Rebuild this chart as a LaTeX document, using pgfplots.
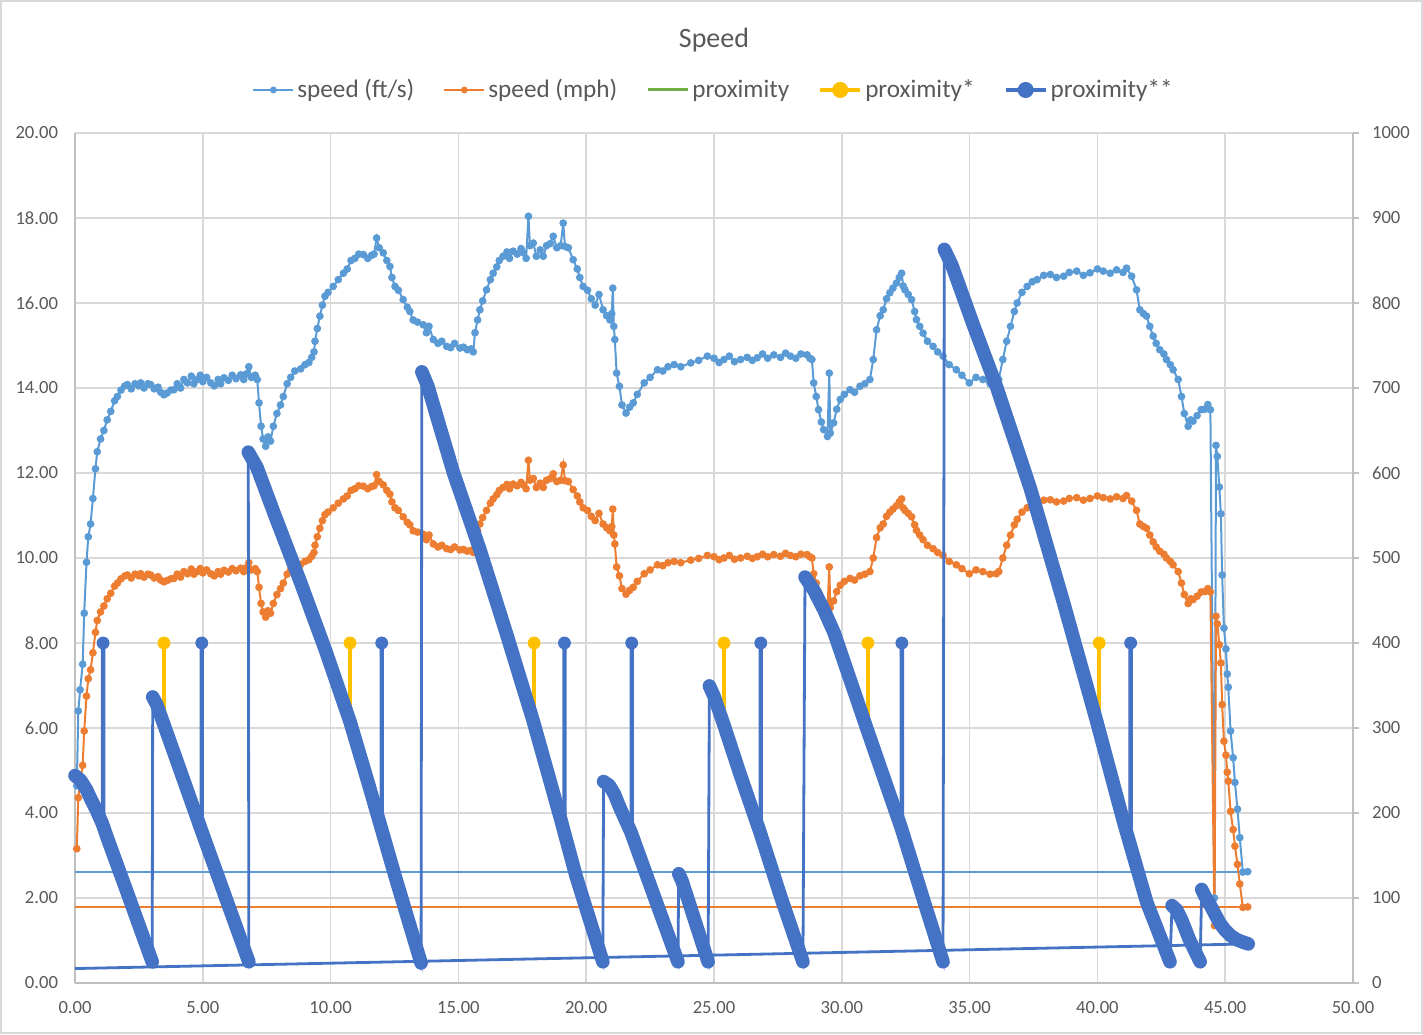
\documentclass[border=0pt]{standalone}
\usepackage{fontspec}
\setmainfont{Carlito}
\usepackage{pgfplots}
\pgfplotsset{compat=1.18}
\usepackage{pgfplotstable}
\definecolor{c1}{HTML}{5B9BD5}
\definecolor{c2}{HTML}{ED7D31}
\definecolor{c3}{HTML}{70AD47}
\definecolor{c4}{HTML}{FFC000}
\definecolor{c5}{HTML}{4472C4}
\definecolor{gridc}{HTML}{D9D9D9}
\definecolor{axisc}{HTML}{BFBFBF}
\definecolor{txt}{HTML}{595959}
\pgfplotstableread{
x fps mph
0.07 4.64 3.16
0.13 6.40 4.36
0.20 6.90 4.71
0.30 7.50 5.12
0.36 8.70 5.93
0.45 9.90 6.75
0.52 10.50 7.16
0.61 10.80 7.37
0.70 11.40 7.77
0.80 12.10 8.25
0.87 12.50 8.53
1.00 12.80 8.73
1.13 13.00 8.87
1.26 13.25 9.04
1.40 13.45 9.17
1.55 13.70 9.34
1.66 13.80 9.41
1.80 13.95 9.51
1.95 14.05 9.58
2.05 14.08 9.60
2.20 13.98 9.53
2.35 14.10 9.62
2.50 14.05 9.58
2.57 14.12 9.63
2.70 14.00 9.55
2.85 14.10 9.62
2.96 14.08 9.60
3.10 13.98 9.53
3.25 14.02 9.56
3.35 13.90 9.48
3.48 13.84 9.44
3.60 13.88 9.47
3.75 13.95 9.51
3.87 13.96 9.52
4.00 14.10 9.62
4.13 14.00 9.55
4.26 14.20 9.68
4.40 14.12 9.63
4.55 14.28 9.74
4.65 14.10 9.62
4.78 14.20 9.68
4.90 14.30 9.75
5.00 14.15 9.65
5.15 14.25 9.72
5.31 14.12 9.63
5.45 14.05 9.58
5.60 14.20 9.68
5.70 14.10 9.62
5.83 14.24 9.71
6.00 14.18 9.67
6.15 14.30 9.75
6.30 14.22 9.70
6.48 14.31 9.76
6.60 14.20 9.68
6.70 14.33 9.77
6.80 14.50 9.89
6.90 14.25 9.72
7.05 14.30 9.75
7.13 14.20 9.68
7.20 13.65 9.31
7.28 13.10 8.93
7.36 12.80 8.73
7.46 12.63 8.61
7.55 12.85 8.76
7.65 12.75 8.70
7.76 13.10 8.93
7.90 13.40 9.14
8.04 13.60 9.28
8.15 13.80 9.41
8.30 14.10 9.62
8.44 14.25 9.72
8.60 14.40 9.82
8.83 14.45 9.85
9.00 14.55 9.92
9.15 14.60 9.96
9.26 14.72 10.04
9.35 14.85 10.13
9.39 15.10 10.30
9.48 15.40 10.50
9.58 15.69 10.70
9.68 15.95 10.88
9.78 16.16 11.02
9.90 16.25 11.08
10.10 16.39 11.18
10.30 16.55 11.29
10.50 16.70 11.39
10.65 16.80 11.46
10.80 17.00 11.59
10.95 17.05 11.63
11.10 17.15 11.70
11.28 17.14 11.69
11.45 17.05 11.63
11.60 17.12 11.68
11.70 17.15 11.70
11.80 17.53 11.96
11.90 17.30 11.80
12.06 17.18 11.72
12.20 17.00 11.59
12.32 16.86 11.50
12.40 16.60 11.32
12.52 16.39 11.18
12.65 16.30 11.12
12.84 16.08 10.97
13.00 15.90 10.84
13.10 15.80 10.78
13.23 15.60 10.64
13.40 15.55 10.61
13.62 15.49 10.56
13.75 15.30 10.43
13.85 15.45 10.54
14.02 15.14 10.33
14.20 15.05 10.26
14.35 15.10 10.30
14.54 14.98 10.22
14.70 14.95 10.20
14.85 15.05 10.26
15.06 14.94 10.19
15.20 14.96 10.20
15.35 14.90 10.16
15.50 14.92 10.18
15.58 14.85 10.13
15.65 15.30 10.43
15.75 15.60 10.64
15.84 15.84 10.80
15.95 16.05 10.95
16.10 16.31 11.12
16.25 16.55 11.29
16.36 16.70 11.39
16.50 16.85 11.49
16.60 17.00 11.59
16.75 17.10 11.66
16.90 17.20 11.73
17.00 17.05 11.63
17.14 17.22 11.74
17.30 17.15 11.70
17.45 17.28 11.78
17.54 17.18 11.72
17.65 17.05 11.63
17.74 18.04 12.30
17.80 17.35 11.83
17.93 17.41 11.87
18.05 17.10 11.66
18.20 17.25 11.76
18.32 17.10 11.66
18.45 17.35 11.83
18.60 17.40 11.87
18.71 17.57 11.98
18.85 17.30 11.80
19.00 17.35 11.83
19.10 17.88 12.19
19.17 17.33 11.82
19.30 17.30 11.80
19.49 17.02 11.61
19.65 16.80 11.46
19.75 16.60 11.32
19.88 16.39 11.18
20.05 16.30 11.12
20.20 16.10 10.98
20.35 15.95 10.88
20.50 16.20 11.05
20.66 15.84 10.80
20.80 15.70 10.71
20.93 15.60 10.64
21.00 15.75 10.74
21.04 16.35 11.15
21.08 15.45 10.54
21.12 15.14 10.33
21.19 14.35 9.79
21.30 14.04 9.58
21.40 13.60 9.28
21.56 13.41 9.15
21.70 13.55 9.24
21.84 13.65 9.31
22.00 13.85 9.45
22.27 14.12 9.63
22.50 14.25 9.72
22.79 14.43 9.84
23.00 14.40 9.82
23.20 14.50 9.89
23.44 14.55 9.92
23.70 14.50 9.89
24.09 14.59 9.95
24.40 14.65 9.99
24.74 14.75 10.06
25.00 14.70 10.03
25.20 14.60 9.96
25.39 14.67 10.00
25.60 14.75 10.06
25.80 14.62 9.97
26.04 14.67 10.00
26.30 14.72 10.04
26.50 14.65 9.99
26.69 14.71 10.03
26.90 14.80 10.09
27.10 14.70 10.03
27.34 14.78 10.08
27.60 14.72 10.04
27.80 14.82 10.11
27.99 14.75 10.06
28.20 14.70 10.03
28.40 14.80 10.09
28.64 14.78 10.08
28.75 14.70 10.03
28.83 14.67 10.00
28.90 14.12 9.63
29.00 13.80 9.41
29.09 13.49 9.20
29.20 13.20 9.00
29.29 13.02 8.88
29.44 12.86 8.77
29.51 14.35 9.79
29.55 12.94 8.83
29.68 13.18 8.99
29.80 13.50 9.21
29.94 13.73 9.36
30.10 13.85 9.45
30.32 13.96 9.52
30.50 13.90 9.48
30.71 14.04 9.58
30.90 14.10 9.62
31.10 14.20 9.68
31.23 14.67 10.00
31.36 15.37 10.48
31.50 15.70 10.71
31.62 15.84 10.80
31.75 16.10 10.98
31.88 16.24 11.08
32.00 16.35 11.15
32.14 16.47 11.23
32.25 16.60 11.32
32.34 16.70 11.39
32.40 16.40 11.18
32.47 16.31 11.12
32.60 16.20 11.05
32.73 16.08 10.97
32.85 15.80 10.78
32.92 15.61 10.65
33.05 15.45 10.54
33.18 15.29 10.43
33.35 15.10 10.30
33.57 14.98 10.22
33.75 14.85 10.13
33.96 14.75 10.06
34.20 14.55 9.92
34.48 14.43 9.84
34.70 14.30 9.75
34.99 14.12 9.63
35.25 14.25 9.72
35.52 14.20 9.68
35.80 14.10 9.62
36.04 14.12 9.63
36.14 14.20 9.68
36.30 14.67 10.00
36.45 15.10 10.30
36.60 15.45 10.54
36.75 15.80 10.78
36.86 16.00 10.91
37.05 16.25 11.08
37.25 16.39 11.18
37.45 16.50 11.25
37.64 16.55 11.29
37.90 16.65 11.36
38.16 16.67 11.37
38.40 16.60 11.32
38.68 16.63 11.34
38.90 16.72 11.40
39.19 16.75 11.42
39.45 16.65 11.36
39.71 16.71 11.40
40.00 16.80 11.46
40.23 16.75 11.42
40.50 16.70 11.39
40.75 16.78 11.44
41.00 16.72 11.40
41.14 16.82 11.47
41.34 16.63 11.34
41.53 16.31 11.12
41.66 15.84 10.80
41.80 15.75 10.74
41.92 15.69 10.70
42.05 15.45 10.54
42.18 15.22 10.38
42.30 15.05 10.26
42.44 14.90 10.16
42.60 14.80 10.09
42.70 14.67 10.00
42.85 14.55 9.92
42.96 14.43 9.84
43.16 14.20 9.68
43.29 13.80 9.41
43.40 13.40 9.14
43.55 13.10 8.93
43.65 13.25 9.04
43.74 13.22 9.02
43.90 13.35 9.10
44.06 13.49 9.20
44.20 13.50 9.21
44.32 13.61 9.28
44.42 13.49 9.20
44.58 2.00 1.35
44.64 12.65 8.63
44.69 12.39 8.45
44.77 11.67 7.96
44.83 11.04 7.53
44.88 9.60 6.55
44.95 8.35 5.69
45.03 7.86 5.36
45.08 7.27 4.96
45.12 6.96 4.75
45.21 5.93 4.04
45.31 5.30 3.61
45.38 4.72 3.22
45.48 4.09 2.79
45.57 3.42 2.33
45.69 2.61 1.78
45.88 2.62 1.79
}\speed

\begin{document}
\begin{tikzpicture}
\useasboundingbox (-37.5pt,-25.5pt) rectangle (674pt,491.5pt);
\draw[gridc, line width=1.2pt] (-36.9pt,-24.9pt) rectangle (673.4pt,490.9pt);
\begin{axis}[
  at={(0pt,0pt)}, anchor=south west,
  scale only axis, width=639pt, height=425pt,
  xmin=0, xmax=50, ymin=0, ymax=20,
  enlargelimits=false, clip=false,
  xtick={0,5,...,50}, ytick={0,2,...,20},
  every non boxed x axis/.style={}, every non boxed y axis/.style={},
  axis x line*=bottom, axis y line*=left,
  axis line style={-, draw=axisc, line width=0.75pt},
  grid=major, grid style={draw=gridc, line width=0.75pt},
  major tick length=0pt, tick style={draw=none},
  ticklabel style={font=\fontsize{9.3}{11}\selectfont, text=txt},
  xticklabel style={yshift=-5.5pt},
  yticklabel style={xshift=-5pt},
  scaled ticks=false,
  /pgf/number format/fixed, /pgf/number format/fixed zerofill,
  /pgf/number format/precision=2, /pgf/number format/assume math mode=true,
  title={Speed},
  title style={at={(0.5,1.0953)}, anchor=center, font=\fontsize{14}{17}\selectfont, text=txt},
]
\addplot[c1, line width=1pt, mark=*, mark size=1.4pt, forget plot] table[x=x, y=fps] {\speed};
\addplot[c1, line width=1pt, forget plot] coordinates {(45.88,2.62) (0,2.62)};
\addplot[c2, line width=1pt, mark=*, mark size=1.4pt, forget plot] table[x=x, y=mph] {\speed};
\addplot[c2, line width=1pt, forget plot] coordinates {(45.88,1.79) (0,1.79)};
\end{axis}
\begin{axis}[
  at={(0pt,0pt)}, anchor=south west,
  scale only axis, width=639pt, height=425pt,
  xmin=0, xmax=50, ymin=0, ymax=1000,
  enlargelimits=false, clip=false,
  every non boxed x axis/.style={}, every non boxed y axis/.style={},
  axis x line=none, axis y line*=right,
  axis line style={-, draw=axisc, line width=0.75pt},
  ytick={0,100,...,1000},
  tick align=outside, major tick length=3pt,
  ytick style={draw=axisc, line width=0.75pt},
  yticklabel style={font=\fontsize{9.3}{11}\selectfont, text=txt, xshift=3pt},
  scaled ticks=false,
  /pgf/number format/fixed, /pgf/number format/precision=0,
  /pgf/number format/1000 sep={}, /pgf/number format/assume math mode=true,
  legend style={at={(0.5,1.0506)}, anchor=center, draw=none, fill=none,
    legend columns=5, font=\fontsize{12.6}{14}\selectfont, text=txt,
    nodes={inner sep=1.5pt},
    /tikz/every even column/.append style={column sep=13pt}},
  legend image code/.code={\draw[mark repeat=2,mark phase=2,#1] plot coordinates {(0pt,0pt) (10pt,0pt) (20pt,0pt)};},
]
\addlegendimage{c1, line width=1pt, mark=*, mark size=1.2pt}
\addlegendentry{speed (ft/s)}
\addlegendimage{c2, line width=1pt, mark=*, mark size=1.2pt}
\addlegendentry{speed (mph)}
\addlegendimage{c3, line width=1.5pt}
\addlegendentry{proximity}
\addlegendimage{c4, line width=2pt, mark=*, mark size=3pt}
\addlegendentry{proximity*}
\addlegendimage{c5, line width=2pt, mark=*, mark size=3pt}
\addlegendentry{proximity**}
% proximity* spikes
\addplot[c4, line width=2pt, unbounded coords=jump, forget plot] coordinates {
(3.48,304) (3.48,400) (3.48,nan)
(10.76,307.5) (10.76,400) (10.76,nan)
(17.96,305) (17.96,400) (17.96,nan)
(25.39,303) (25.39,400) (25.39,nan)
(31.02,296) (31.02,400) (31.02,nan)
(40.07,297) (40.07,400)};
\addplot[c4, only marks, mark=*, mark size=3pt, forget plot] coordinates {
(3.48,400) (10.76,400) (17.96,400) (25.39,400) (31.02,400) (40.07,400)};
% proximity** thin path
\addplot[c5, line width=1.4pt, forget plot] coordinates {
(0,244) (0.22,238.5) (0.45,227.5) (0.61,217) (0.85,202.5) (1.07,187.5) (1.07,400) (1.13,400) (1.13,183) (1.26,171) (2.0,110) (3.02,25)
(3.04,336.5) (3.2,327.5) (4.0,260) (4.93,181) (4.93,400) (4.99,400) (4.99,176) (5.9,100) (6.80,25)
(6.78,624.5) (7.12,606.5) (7.79,552.5) (8.81,472.5) (9.8,391.5) (10.76,307.5) (11.5,232.5) (11.97,183.5) (11.97,400) (12.03,400) (12.03,177.5) (12.53,125) (13.54,23.5)
(13.57,719) (13.8,702.5) (14.81,600) (15.84,510) (16.88,411) (17.92,309) (18.96,197.5) (19.12,180) (19.12,400) (19.18,400) (19.18,173) (19.61,125) (20.65,25)
(20.68,237) (20.9,232.5) (21.1,222.5) (21.3,207.5) (21.75,177.5) (21.75,400) (21.81,400) (21.81,172.5) (22.6,107) (23.59,25)
(23.62,128.5) (23.75,120) (24.77,25)
(24.82,349.5) (25.0,337.5) (25.4,302.5) (26.0,247.5) (26.8,177.5) (26.8,400) (26.86,400) (26.86,172) (27.6,102.5) (28.48,25)
(28.56,477.5) (28.9,462.5) (29.3,439) (29.7,412) (31.0,297.5) (32.32,183) (32.32,400) (32.38,400) (32.38,178) (33.2,97.5) (33.96,25)
(34.01,863) (34.3,845) (35.16,773) (36.07,700) (37.37,582.5) (38.67,448) (39.97,308) (41.02,190) (41.27,164) (41.27,400) (41.33,400) (41.33,158) (41.93,95) (42.84,25)
(42.92,91) (43.1,86) (43.3,74) (43.6,51) (44.02,25)
(44.08,110) (44.2,102.5) (44.4,92.5) (44.6,81) (44.8,70) (45.0,62) (45.2,56) (45.45,51) (45.7,48) (45.9,46)};
\addplot[c5, line width=1.4pt, forget plot] coordinates {(45.9,46) (0,17)};
% proximity** dense markers (band)
\addplot[c5, line width=6.8pt, line cap=round, line join=round, unbounded coords=jump, forget plot] coordinates {
(0,244) (0.22,238.5) (0.45,227.5) (0.61,217) (0.85,202.5) (1.07,187.5) (1.26,171) (2.0,110) (3.02,25) (3.03,nan)
(3.04,336.5) (3.2,327.5) (4.0,260) (4.93,181) (5.9,100) (6.80,25) (6.79,nan)
(6.78,624.5) (7.12,606.5) (7.79,552.5) (8.81,472.5) (9.8,391.5) (10.76,307.5) (11.5,232.5) (12.53,125) (13.54,23.5) (13.55,nan)
(13.57,719) (13.8,702.5) (14.81,600) (15.84,510) (16.88,411) (17.92,309) (18.96,197.5) (19.61,125) (20.65,25) (20.66,nan)
(20.68,237) (20.9,232.5) (21.1,222.5) (21.3,207.5) (21.75,177.5) (22.6,107) (23.59,25) (23.6,nan)
(23.62,128.5) (23.75,120) (24.77,25) (24.8,nan)
(24.82,349.5) (25.0,337.5) (25.4,302.5) (26.0,247.5) (26.8,177.5) (27.6,102.5) (28.48,25) (28.52,nan)
(28.56,477.5) (28.9,462.5) (29.3,439) (29.7,412) (31.0,297.5) (32.32,183) (33.2,97.5) (33.96,25) (33.98,nan)
(34.01,863) (34.3,845) (35.16,773) (36.07,700) (37.37,582.5) (38.67,448) (39.97,308) (41.02,190) (41.93,95) (42.84,25) (42.88,nan)
(42.92,91) (43.1,86) (43.3,74) (43.6,51) (44.02,25) (44.05,nan)
(44.08,110) (44.2,102.5) (44.4,92.5) (44.6,81) (44.8,70) (45.0,62) (45.2,56) (45.45,51) (45.7,48) (45.9,46)};
\addplot[c5, only marks, mark=*, mark size=3pt, forget plot] coordinates {
(1.10,400) (4.96,400) (12.0,400) (19.15,400) (21.78,400) (26.83,400) (32.35,400) (41.3,400)};
\end{axis}
\end{tikzpicture}
\end{document}
